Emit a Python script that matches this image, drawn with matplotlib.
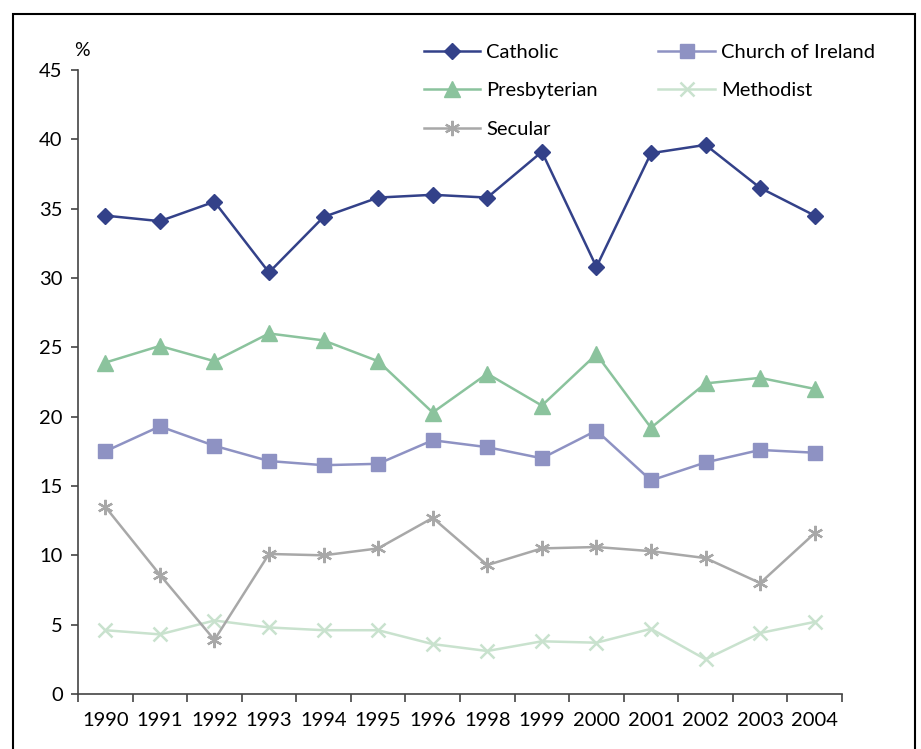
import matplotlib.pyplot as plt
from matplotlib.patches import Rectangle
from matplotlib.ticker import FixedLocator, NullFormatter

plt.rcParams['font.family'] = ['Lato', 'DejaVu Sans']

years = ["1990", "1991", "1992", "1993", "1994", "1995", "1996",
         "1998", "1999", "2000", "2001", "2002", "2003", "2004"]

catholic = [34.5, 34.1, 35.5, 30.4, 34.4, 35.8, 36.0, 35.8, 39.1, 30.8, 39.0, 39.6, 36.5, 34.5]
church_of_ireland = [17.5, 19.3, 17.9, 16.8, 16.5, 16.6, 18.3, 17.8, 17.0, 19.0, 15.4, 16.7, 17.6, 17.4]
presbyterian = [23.9, 25.1, 24.0, 26.0, 25.5, 24.0, 20.3, 23.1, 20.8, 24.5, 19.2, 22.4, 22.8, 22.0]
methodist = [4.6, 4.3, 5.3, 4.8, 4.6, 4.6, 3.6, 3.1, 3.8, 3.7, 4.7, 2.5, 4.4, 5.2]
secular = [13.5, 8.6, 3.9, 10.1, 10.0, 10.5, 12.7, 9.3, 10.5, 10.6, 10.3, 9.8, 8.0, 11.6]

W, H = 921, 749
fig = plt.figure(figsize=(W / 100, H / 100), dpi=100)
ax = fig.add_axes([78 / W, 1 - 694 / H, (842 - 78) / W, (694 - 70) / H])

x = list(range(len(years)))
lw = 1.8
h_cat, = ax.plot(x, catholic, color="#334189", lw=lw, marker="D", ms=8.5, label="Catholic")
h_coi, = ax.plot(x, church_of_ireland, color="#8E92C3", lw=lw, marker="s", ms=10, label="Church of Ireland")
h_pre, = ax.plot(x, presbyterian, color="#8BC39D", lw=lw, marker="^", ms=11, label="Presbyterian")
h_met, = ax.plot(x, methodist, color="#C9E2CE", lw=lw, marker="x", ms=10, mew=1.8, label="Methodist")
h_sec, = ax.plot(x, secular, color="#A8A8A8", lw=lw, marker=(6, 2, 0), ms=11, mew=1.6, label="Secular")

ax.set_ylim(0, 45)
ax.set_yticks(range(0, 46, 5))
ax.set_xlim(-0.5, len(years) - 0.5)
ax.xaxis.set_major_locator(FixedLocator([i - 0.5 for i in range(len(years) + 1)]))
ax.xaxis.set_major_formatter(NullFormatter())
ax.set_xticks(x, minor=True)
ax.set_xticklabels(years, minor=True)
ax.tick_params(axis="x", which="major", direction="out", length=6, width=1.2, color="#444444")
ax.tick_params(axis="x", which="minor", length=0, pad=13, labelsize=14.5)
ax.tick_params(axis="y", direction="out", length=5, width=1.2, color="#444444", labelsize=14.5, pad=6)

for s in ["top", "right"]:
    ax.spines[s].set_visible(False)
for s in ["left", "bottom"]:
    ax.spines[s].set_color("#444444")
    ax.spines[s].set_linewidth(1.2)

fig.text(74 / W, 1 - 50 / H, "%", fontsize=14, ha="left", va="center")

fig.legend(handles=[h_cat, h_pre, h_sec, h_coi, h_met], ncol=2, frameon=False,
           loc="upper left", bbox_to_anchor=(424 / W, 1 - 44 / H),
           fontsize=14.5, handlelength=2.8, labelspacing=1.05, columnspacing=3.0,
           handletextpad=0.3, borderaxespad=0, borderpad=0)

fig.add_artist(Rectangle((13 / W, -0.01), (915 - 13) / W, 1 - 14 / H + 0.01,
                         transform=fig.transFigure, fill=False, lw=1.5, ec="black"))

fig.savefig("out.png", dpi=100)
